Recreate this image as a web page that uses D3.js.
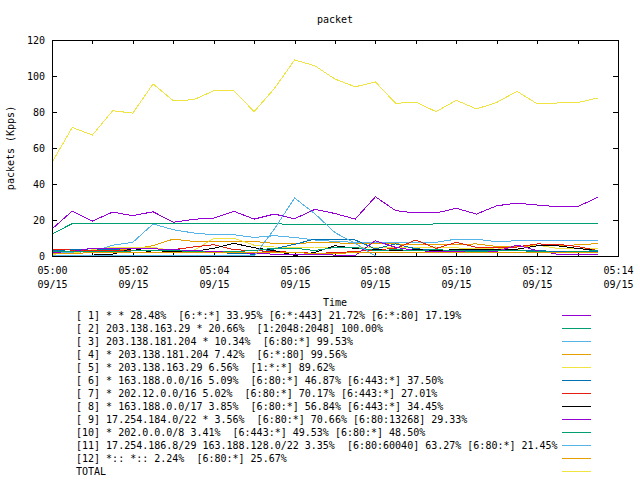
<!DOCTYPE html>
<html>
<head>
	<meta charset="utf-8">
	<title>packet</title>
	<style>
		body{
			margin: 0;
			background: white;
		}
		svg{
			display: block;
		}
		text{
			font-family: "DejaVu Sans Mono", monospace;
			font-size: 10px;
			fill: black;
		}
		.frame{
			fill: none;
			stroke: black;
			shape-rendering: crispEdges;
		}
		.tick{
			stroke: black;
			shape-rendering: crispEdges;
		}
		.series{
			fill: none;
			stroke-width: 1px;
			shape-rendering: crispEdges;
		}
	</style>
	<script src="https://cdn.jsdelivr.net/npm/d3@7"></script>
</head>
<body>
  <svg width="640" height="480"></svg>
  <script>
    // sample times (every 30 s)
    var times = ["05:00:00","05:00:30","05:01:00","05:01:30","05:02:00","05:02:30","05:03:00",
                 "05:03:30","05:04:00","05:04:30","05:05:00","05:05:30","05:06:00","05:06:30",
                 "05:07:00","05:07:30","05:08:00","05:08:30","05:09:00","05:09:30","05:10:00",
                 "05:10:30","05:11:00","05:11:30","05:12:00","05:12:30","05:13:00","05:13:30"];

    var s1  = [15,25,19.4,24.4,22.4,24.6,18.7,20.4,21.1,24.8,20.5,23.3,20.7,25.9,23.6,20.5,32.9,25.2,23.9,23.9,26.5,23.3,27.9,29.4,28.3,27.4,27.4,32.6];
    var s2  = [12.2,18,18,18,18,18,18,18,18,18,18,18,17.4,17.4,17.4,17.4,17.4,17.6,17.6,17.8,17.8,17.8,17.8,17.8,17.8,17.8,17.8,17.8];
    var s3  = [1.5,2,2.5,6,7.6,17.8,14.6,12.8,11.8,11.8,10.3,11.3,10.3,8.9,8.1,7.6,7.6,7.6,7.6,7.6,9.4,9.4,7.9,8.5,8.5,8.5,8.5,8.5];
    var s4  = [2.5,2.5,3,3.5,4,5.7,9.4,8.1,8.1,8.1,8.1,7,7,7.4,7.4,6.7,6.7,6.7,6.5,6.5,6.5,6.7,5.3,5.3,5.7,5.7,6.2,6.9];
    var s5  = [1,1.5,3.5,4.8,4.8,4.8,3,3,9.8,9.8,6,5,4.5,5,5,4.5,4.5,4.5,4.7,5,4.5,4,4.5,3.5,6.1,4.2,4.2,4.2];
    var s6  = [3,3.5,4,3.5,3,3,3.5,3,2,1.5,1,4,6.5,9.4,9.4,8.9,3.9,6.7,4,3.5,3,3,3,3,3,2.5,2.5,2.5];
    var s7  = [3.5,3.3,3,2.8,3,3.2,3.5,5,6.3,3.5,3,2.5,2,1.5,1.8,2.5,3.5,4.2,8.9,4.2,7.6,4.8,4.5,5,6.7,6.5,5.3,3];
    var s8  = [0.5,0.3,0.5,1,4.2,2,2.5,2.5,4.3,7,4.6,3,0.3,2,5.7,4.2,3.5,3,3.5,3,3.5,3.5,3.5,3.8,5.7,5.7,4.2,3];
    var s9  = [2,2.5,4.4,4.4,4.4,4,3.5,3,2.5,2,1.5,1,1,1,0.5,0.3,8.5,4.8,3,2.5,2.5,2,2.5,6.1,3,1,0.8,0.8];
    var s10 = [2.5,2.5,2.5,2.5,2.8,3,3,2.5,2,2.5,3,4.4,4.4,3,4.8,4.8,3,3.5,3,3.5,3,2.5,3,3,2.5,2,2.5,3];
    var s11 = [0.3,0.5,0.3,0.3,0.5,0.5,0.3,0.3,0.3,0.3,0,15,32.2,23.5,13,7,0,0,0,0,0,0,0,0,0,0,0,0];
    var s12 = [1.5,1.5,1.8,1.8,2,2,2,1.8,1.8,2,2,2,1.8,1.5,1.5,1.8,1.8,2,2,2,1.8,1.8,2,2,2,2,2,2];
    var total = [52,71.4,67.2,80.7,79.4,95.6,86.3,86.8,91.8,91.8,80.2,93,108.9,105.7,98.3,94,96.7,84.8,85.5,80.2,86.5,81.7,85.3,91.5,84.6,85,85.2,87.8];

    var labels = [
      "[ 1] * * 28.48%  [6:*:*] 33.95% [6:*:443] 21.72% [6:*:80] 17.19%",
      "[ 2] 203.138.163.29 * 20.66%  [1:2048:2048] 100.00%",
      "[ 3] 203.138.181.204 * 10.34%  [6:80:*] 99.53%",
      "[ 4] * 203.138.181.204 7.42%  [6:*:80] 99.56%",
      "[ 5] * 203.138.163.29 6.56%  [1:*:*] 89.62%",
      "[ 6] * 163.188.0.0/16 5.09%  [6:80:*] 46.87% [6:443:*] 37.50%",
      "[ 7] * 202.12.0.0/16 5.02%  [6:80:*] 70.17% [6:443:*] 27.01%",
      "[ 8] * 163.188.0.0/17 3.85%  [6:80:*] 56.84% [6:443:*] 34.45%",
      "[ 9] 17.254.184.0/22 * 3.56%  [6:80:*] 70.66% [6:80:13268] 29.33%",
      "[10] * 202.0.0.0/8 3.41%  [6:443:*] 49.53% [6:80:*] 48.50%",
      "[11] 17.254.186.8/29 163.188.128.0/22 3.35%  [6:80:60040] 63.27% [6:80:*] 21.45%",
      "[12] *:: *:: 2.24%  [6:80:*] 25.67%",
      "TOTAL"
    ];

    var yTicks = [0,20,40,60,80,100,120];

    var colors = ["#9400d3","#009e73","#56b4e9","#e69f00","#f0e442","#0072b2","#e51e10","#000000"];

    var series = [s1,s2,s3,s4,s5,s6,s7,s8,s9,s10,s11,s12,total];

    var parse = d3.timeParse("%Y-%m-%d %H:%M:%S");
    var dates = times.map(function(t){ return parse("2000-09-15 " + t); });

    var pLeft = 52, pRight = 618, pTop = 40, pBottom = 256;

    var svg = d3.select("svg");

    var x = d3.scaleTime()
              .domain([parse("2000-09-15 05:00:00"), parse("2000-09-15 05:14:00")])
              .range([pLeft, pRight]);
    var y = d3.scaleLinear().domain([0,120]).range([pBottom, pTop]);

    // title and axis labels
    svg.append("text").attr("x", 335).attr("y", 19).attr("dy","0.35em")
       .attr("text-anchor","middle").text("packet");
    svg.append("text").attr("x", 335).attr("y", 302).attr("dy","0.35em")
       .attr("text-anchor","middle").text("Time");
    svg.append("text").attr("transform","translate(10,148) rotate(-90)").attr("dy","0.35em")
       .attr("text-anchor","middle").text("packets (Kpps)");

    // y ticks (mirrored)
    var g_ax = svg.append("g");
    yTicks.forEach(function(v){
      var yy = Math.round(y(v)) + 0.5;
      g_ax.append("line").attr("class","tick").attr("x1",pLeft).attr("x2",pLeft+5).attr("y1",yy).attr("y2",yy);
      g_ax.append("line").attr("class","tick").attr("x1",pRight-5).attr("x2",pRight).attr("y1",yy).attr("y2",yy);
      g_ax.append("text").attr("x", 45).attr("y", yy).attr("dy","0.35em")
          .attr("text-anchor","end").text(v);
    });

    // x ticks every minute, labels every 2 minutes
    var fmtT = d3.timeFormat("%H:%M"), fmtD = d3.timeFormat("%m/%d");
    x.ticks(d3.timeMinute.every(1)).forEach(function(d){
      var xx = Math.round(x(d)) + 0.5;
      g_ax.append("line").attr("class","tick").attr("x1",xx).attr("x2",xx).attr("y1",pBottom).attr("y2",pBottom-4);
      g_ax.append("line").attr("class","tick").attr("x1",xx).attr("x2",xx).attr("y1",pTop).attr("y2",pTop+4);
      if (d.getMinutes() % 2 == 0) {
        g_ax.append("text").attr("x", xx).attr("y", 270).attr("dy","0.35em")
            .attr("text-anchor","middle").text(fmtT(d));
        g_ax.append("text").attr("x", xx).attr("y", 284).attr("dy","0.35em")
            .attr("text-anchor","middle").text(fmtD(d));
      }
    });

    // lines
    var line = d3.line()
                 .x(function(d, i){ return x(dates[i]); })
                 .y(function(d){ return y(d); });

    svg.append("g").selectAll("path")
       .data(series)
       .enter().append("path")
       .attr("class","series")
       .attr("d", line)
       .attr("stroke", function(d, i){ return colors[i % colors.length]; });

    // frame
    svg.append("rect").attr("class","frame")
       .attr("x", pLeft + 0.5).attr("y", pTop + 0.5)
       .attr("width", pRight - pLeft).attr("height", pBottom - pTop);

    // key
    var key = svg.append("g").selectAll("g")
                 .data(labels)
                 .enter().append("g")
                 .attr("transform", function(d, i){ return "translate(0," + (315 + i*13) + ")"; });
    key.append("text").attr("x", 76).attr("dy","0.35em")
       .style("white-space","pre").attr("xml:space","preserve")
       .text(function(d){ return d; });
    key.append("line").attr("class","series")
       .attr("x1", 562).attr("x2", 591).attr("y1", 0.5).attr("y2", 0.5)
       .attr("stroke", function(d, i){ return colors[i % colors.length]; });
  </script>
</body>
</html>
